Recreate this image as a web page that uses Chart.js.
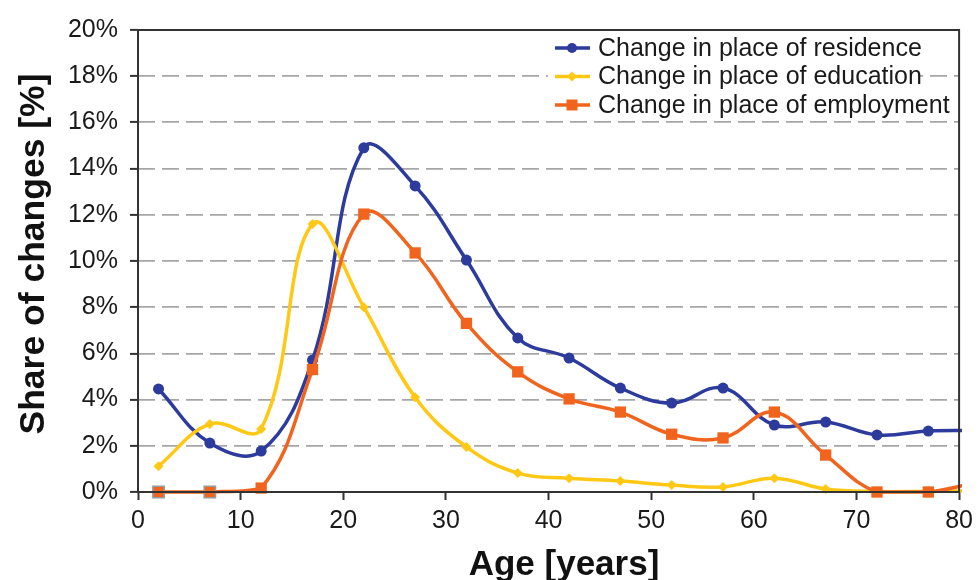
<!DOCTYPE html>
<html>
<head>
<meta charset="utf-8">
<script src="https://cdn.jsdelivr.net/npm/chart.js@4.4.0/dist/chart.umd.min.js"></script>
<style>
  body { margin: 0; background: #fff; }
  #wrap { width: 979px; height: 580px; }
</style>
</head>
<body>
<div id="wrap"><canvas id="chart"></canvas></div>
<script>
// age groups (x) - last one sits just past the axis end and gets clipped
const ages = [2, 7, 12, 17, 22, 27, 32, 37, 42, 47, 52, 57, 62, 67, 72, 77, 82];
const residence = [4.46, 2.12, 1.77, 5.71, 14.9, 13.25, 10.04, 6.67, 5.8, 4.5, 3.85, 4.5, 2.9, 3.03, 2.47, 2.64, 2.66];
const education = [1.12, 2.94, 2.73, 11.6, 8.0, 4.1, 1.95, 0.82, 0.6, 0.48, 0.3, 0.22, 0.6, 0.13, 0.02, 0.03, 0.05];
const employment = [0, 0, 0.17, 5.3, 12.03, 10.35, 7.3, 5.2, 4.03, 3.46, 2.5, 2.34, 3.46, 1.6, 0, 0, 0.45];
const seriesNames = ['Change in place of residence', 'Change in place of education', 'Change in place of employment'];
const yTicks = [0, 2, 4, 6, 8, 10, 12, 14, 16, 18, 20];
const xTitle = 'Age [years]';
const yTitle = 'Share of changes [%]';

const blue = '#2c3b9c';
const yellow = '#ffc814';
const orange = '#f0641e';
const axisColor = '#333333';
const fontFamily = '"Liberation Sans", Arial, sans-serif';

function toPoints(values) {
    return values.map((v, i) => ({ x: ages[i], y: v }));
}

const lineClip = { left: 10, top: 10, right: 3, bottom: 10 };

// legend patch, frame and axis titles
const decorPlugin = {
    id: 'decor',
    afterDraw(chart) {
        const ctx = chart.ctx;
        ctx.save();
        ctx.fillStyle = '#fff';
        ctx.fillRect(548, 32, 370, 86);
        const rows = [
            { color: blue, shape: 'circle' },
            { color: yellow, shape: 'diamond' },
            { color: orange, shape: 'square' }
        ];
        ctx.font = '25px ' + fontFamily;
        ctx.textBaseline = 'middle';
        rows.forEach((row, i) => {
            const y = 48 + i * 28.5;
            ctx.strokeStyle = row.color;
            ctx.lineWidth = 3.5;
            ctx.beginPath();
            ctx.moveTo(555, y);
            ctx.lineTo(590, y);
            ctx.stroke();
            ctx.fillStyle = row.color;
            ctx.beginPath();
            if (row.shape === 'circle') {
                ctx.arc(572, y, 5, 0, Math.PI * 2);
            } else if (row.shape === 'diamond') {
                ctx.moveTo(572, y - 5); ctx.lineTo(577, y); ctx.lineTo(572, y + 5); ctx.lineTo(567, y);
                ctx.closePath();
            } else {
                ctx.rect(566.5, y - 5.5, 11, 11);
            }
            ctx.fill();
            ctx.fillStyle = '#1a1a1a';
            ctx.fillText(seriesNames[i], 598, y + 1);
        });
        ctx.restore();

        // plot frame
        const a = chart.chartArea;
        ctx.save();
        ctx.strokeStyle = axisColor;
        ctx.lineWidth = 2;
        ctx.strokeRect(a.left, a.top, a.right - a.left, a.bottom - a.top);

        // axis titles
        ctx.fillStyle = '#111';
        ctx.textAlign = 'center';
        ctx.textBaseline = 'alphabetic';
        ctx.font = 'bold 35px ' + fontFamily;
        ctx.fillText(xTitle, 564, 575);
        ctx.translate(44, 254);
        ctx.rotate(-Math.PI / 2);
        ctx.font = 'bold 35.5px ' + fontFamily;
        ctx.fillText(yTitle, 0, 0);
        ctx.restore();
    }
};

new Chart(document.getElementById('chart'), {
    type: 'line',
    data: {
        datasets: [{
            label: seriesNames[0],
            data: toPoints(residence),
            borderColor: blue,
            backgroundColor: blue,
            borderWidth: 3.5,
            pointStyle: 'circle',
            pointRadius: 5.5,
            pointBorderWidth: 0,
            tension: 0.4,
            clip: lineClip
        }, {
            label: seriesNames[1],
            data: toPoints(education),
            borderColor: yellow,
            backgroundColor: yellow,
            borderWidth: 3.5,
            pointStyle: 'rectRot',
            pointRadius: 5,
            pointBorderWidth: 0,
            tension: 0.4,
            clip: lineClip
        }, {
            label: seriesNames[2],
            data: toPoints(employment),
            borderColor: orange,
            backgroundColor: orange,
            borderWidth: 3.5,
            pointStyle: 'rect',
            pointRadius: 8,
            pointBorderWidth: ctx => ctx.dataIndex < 2 ? 1.5 : 0,
            pointBorderColor: ctx => ctx.dataIndex < 2 ? '#999' : orange,
            tension: 0.4,
            clip: lineClip
        }].reverse()
    },
    options: {
        responsive: true,
        maintainAspectRatio: false,
        animation: false,
        layout: { padding: { top: 30, right: 19, left: 0, bottom: 0 } },
        plugins: {
            legend: { display: false },
            tooltip: { enabled: false }
        },
        scales: {
            x: {
                type: 'linear',
                min: 0,
                max: 80,
                afterFit: scale => { scale.height = 88; },
                ticks: {
                    stepSize: 10,
                    color: '#1a1a1a',
                    font: { family: fontFamily, size: 25 },
                    padding: 6,
                    maxRotation: 0
                },
                grid: {
                    drawOnChartArea: false,
                    drawTicks: true,
                    tickLength: 8,
                    tickColor: axisColor,
                    tickWidth: 2
                },
                border: { display: false }
            },
            y: {
                min: 0,
                max: 20,
                afterFit: scale => { scale.width = 138; },
                afterBuildTicks: scale => { scale.ticks = yTicks.map(v => ({ value: v })); },
                ticks: {
                    color: '#1a1a1a',
                    font: { family: fontFamily, size: 25 },
                    padding: 12,
                    callback: v => v + '%'
                },
                grid: {
                    color: ctx => (ctx.tick && (ctx.tick.value === 0 || ctx.tick.value === 20)) ? 'rgba(0,0,0,0)' : '#a6a6a6',
                    lineWidth: 1.8,
                    drawTicks: true,
                    tickLength: 8,
                    tickColor: axisColor,
                    tickWidth: 2,
                    tickBorderDash: []
                },
                border: { display: false, dash: [17, 7] }
            }
        }
    },
    plugins: [decorPlugin]
});
</script>
</body>
</html>
